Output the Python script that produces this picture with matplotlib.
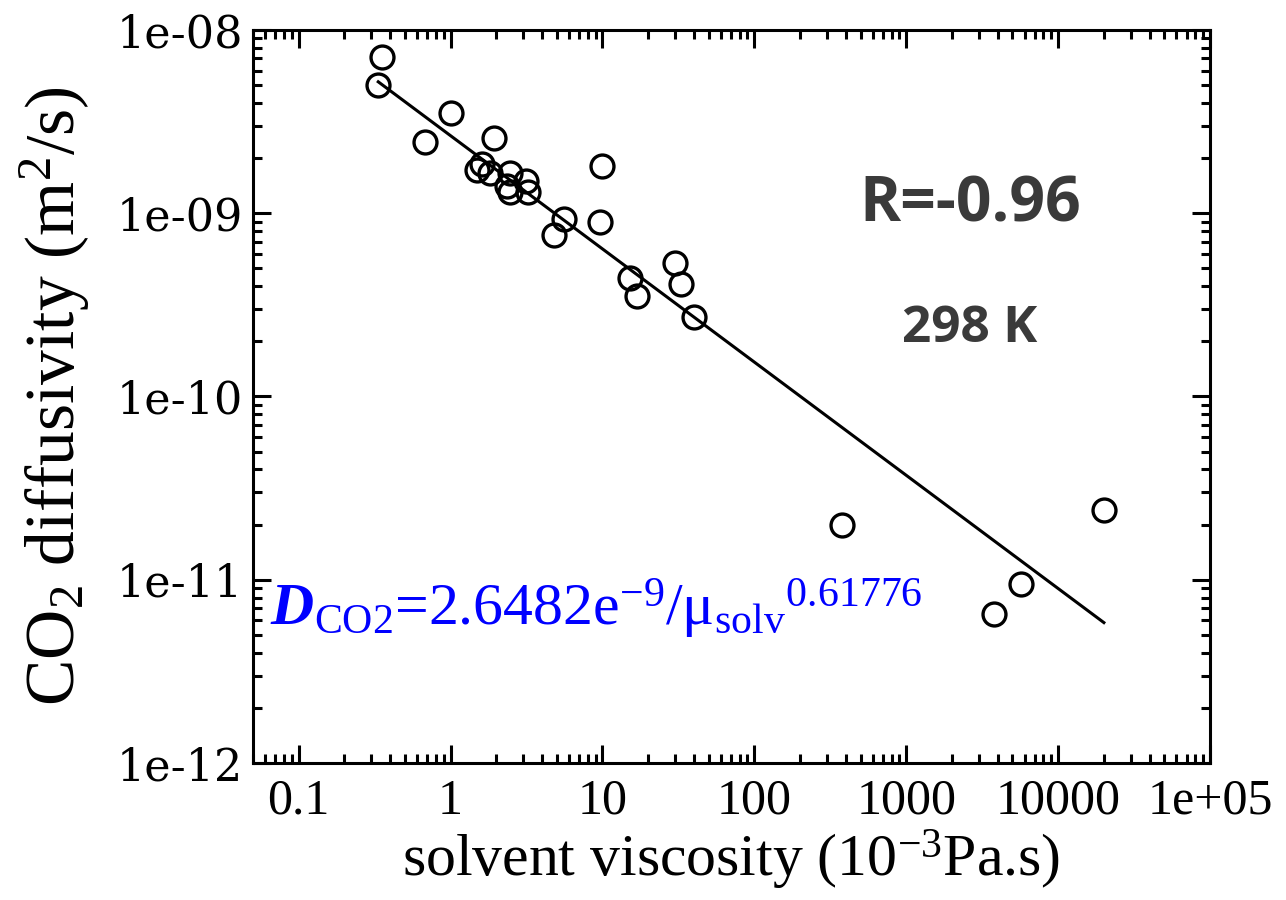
import numpy as np
import matplotlib
matplotlib.use("Agg")
import matplotlib.pyplot as plt
from matplotlib.ticker import FixedLocator, FixedFormatter, LogLocator, NullFormatter

# solvent viscosity (mPa.s) and CO2 diffusivity (m2/s) at 298 K
viscosidade = [0.352, 0.334, 0.678, 1.005, 1.93, 1.60, 1.50, 1.81, 2.46, 2.34,
               2.46, 3.16, 3.25, 9.95, 5.60, 4.81, 9.60, 15.1, 16.9, 29.9,
               33.1, 39.9, 375.0, 3776.0, 5710.0, 19980.0]
difusividade = [7.15e-9, 5.01e-9, 2.46e-9, 3.51e-9, 2.58e-9, 1.86e-9, 1.72e-9,
                1.65e-9, 1.65e-9, 1.40e-9, 1.31e-9, 1.49e-9, 1.31e-9, 1.80e-9,
                9.27e-10, 7.61e-10, 8.99e-10, 4.42e-10, 3.54e-10, 5.33e-10,
                4.11e-10, 2.73e-10, 1.99e-11, 6.53e-12, 9.44e-12, 2.40e-11]

# power-law fit  D = a / mu^b
coef_a = 2.6482e-9
coef_b = 0.61776
coef_r = -0.96

x_ticks = [0.1, 1, 10, 100, 1000, 10000, 1e5]
x_labels = ["0.1", "1", "10", "100", "1000", "10000", "1e+05"]
y_ticks = [1e-12, 1e-11, 1e-10, 1e-9, 1e-8]
y_labels = ["1e-12", "1e-11", "1e-10", "1e-09", "1e-08"]

plt.rcParams["font.family"] = "Liberation Serif"
plt.rcParams["mathtext.fontset"] = "custom"
plt.rcParams["mathtext.rm"] = "Liberation Serif"
plt.rcParams["mathtext.it"] = "Liberation Serif:italic"
plt.rcParams["mathtext.bf"] = "Liberation Serif:bold"
plt.rcParams["mathtext.bfit"] = "Liberation Serif:bold:italic"

fig = plt.figure(figsize=(12.86, 9.0), dpi=100)
ax = fig.add_axes([0.1967, 0.1522, 0.7443, 0.8145])

ax.plot(viscosidade, difusividade, "o", ms=16.5, mfc="none", mec="black", mew=2.4,
        zorder=3)

x_fit = np.array([min(viscosidade), max(viscosidade)])
ax.plot(x_fit, coef_a / x_fit ** coef_b, color="black", lw=2.2, zorder=2)

ax.set_xscale("log")
ax.set_yscale("log")
ax.set_xlim(0.05, 1e5)
ax.set_ylim(1e-12, 1e-8)

ax.xaxis.set_major_locator(FixedLocator(x_ticks))
ax.xaxis.set_major_formatter(FixedFormatter(x_labels))
ax.yaxis.set_major_locator(FixedLocator(y_ticks))
ax.yaxis.set_major_formatter(FixedFormatter(y_labels))
for eixo in (ax.xaxis, ax.yaxis):
    eixo.set_minor_locator(LogLocator(base=10, subs=np.arange(2, 10), numticks=20))
    eixo.set_minor_formatter(NullFormatter())

ax.tick_params(which="both", direction="in", top=True, right=True, width=2.2)
ax.tick_params(which="major", length=13)
ax.tick_params(which="minor", length=6.5)
ax.tick_params(axis="x", labelsize=36, pad=11)
ax.tick_params(axis="y", labelsize=32, pad=7)
for lbl in ax.get_yticklabels():
    lbl.set_family("DejaVu Serif")
for sp in ax.spines.values():
    sp.set_linewidth(2.2)

ax.set_xlabel(r"solvent viscosity (10$^{\mathrm{-3}}$Pa.s)", fontsize=43)
ax.xaxis.set_label_coords(0.5, -0.088)
ax.set_ylabel(r"CO$_2$ diffusivity (m$^2$/s)", fontsize=50)
ax.yaxis.set_label_coords(-0.168, 0.5)

ax.text(0.749, 0.761, "R=%.2f" % coef_r, transform=ax.transAxes, ha="center",
        va="center", fontsize=45, fontweight="bold", family="Open Sans",
        color="#3a3a3a")
ax.text(0.749, 0.592, "298 K", transform=ax.transAxes, ha="center", va="center",
        fontsize=37, fontweight="bold", family="Open Sans", color="#3a3a3a")

equacao = (r"$\mathbfit{D}_{\mathrm{CO2}}$=2.6482e$^{\mathrm{-9}}$/"
           r"${\mathrm{μ}_{\mathrm{solv}}}^{\mathrm{0.61776}}$")
ax.text(0.018, 0.188, equacao, transform=ax.transAxes, ha="left",
        va="baseline", fontsize=43, color="#0000ff")

fig.savefig("out.png", dpi=100)
